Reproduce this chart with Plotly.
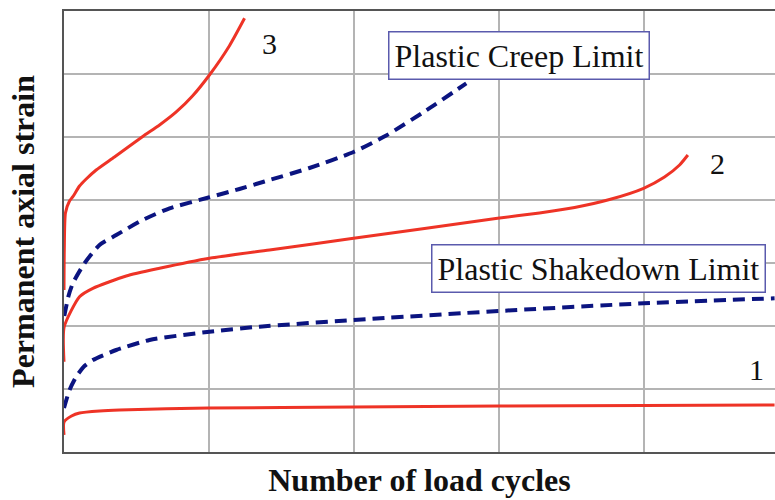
import plotly.graph_objects as go

# ---- data (grid units: x = load-cycle divisions, y = strain divisions) ----
c1_x = [0, 0, 0.052, 0.107, 0.245, 0.383, 0.997, 1.997, 3.003, 3.997, 4.9]
c1_y = [0.27, 0.476, 0.571, 0.619, 0.651, 0.667, 0.698, 0.714, 0.730, 0.738, 0.746]

shake_x = [0, 0.038, 0.084, 0.141, 0.199, 0.36, 0.59, 1.003, 1.348, 1.997, 2.997, 3.997, 4.9]
shake_y = [0.698, 0.984, 1.195, 1.365, 1.46, 1.619, 1.778, 1.91, 1.989, 2.095, 2.238, 2.36, 2.44]

c2_x = [0, 0.001, 0.107, 0.199, 0.429, 0.659, 1.003, 1.417, 1.997, 2.99, 3.279, 3.521, 3.762, 3.997, 4.141, 4.245, 4.302]
c2_y = [1.433, 1.984, 2.465, 2.598, 2.794, 2.916, 3.075, 3.207, 3.392, 3.710, 3.794, 3.881, 4.008, 4.186, 4.365, 4.556, 4.714]

creep_x = [0.002, 0.031, 0.061, 0.141, 0.245, 0.360, 0.543, 0.728, 1.003, 1.21, 1.383, 1.693, 1.997, 2.222, 2.497, 2.774]
creep_y = [2.159, 2.476, 2.678, 2.995, 3.286, 3.444, 3.683, 3.868, 4.043, 4.175, 4.294, 4.508, 4.762, 5.024, 5.421, 5.852]

c3_x = [0, 0.002, 0.010, 0.038, 0.061, 0.107, 0.153, 0.222, 0.348, 0.543, 0.659, 0.774, 0.886, 1.003, 1.141, 1.245]
c3_y = [2.571, 3.206, 3.794, 3.984, 4.052, 4.222, 4.333, 4.476, 4.683, 5.008, 5.190, 5.397, 5.651, 5.984, 6.449, 6.884]

curve_labels = ["1", "2", "3"]
curve_label_x = [4.776, 4.507, 1.417]
curve_label_y = [1.302, 4.587, 6.492]

box_labels = ["Plastic Creep Limit", "Plastic Shakedown Limit"]
box_x = [3.138, 3.686]
box_y = [6.286, 2.905]

x_grid = [0, 1, 2, 3, 4]
y_grid = [0, 1, 2, 3, 4, 5, 6, 7]

RED = "#ee3326"
NAVY = "#0b1480"
SERIF = "Liberation Serif, Times New Roman, serif"

fig = go.Figure()

def red(x, y):
    fig.add_trace(go.Scatter(x=x, y=y, mode="lines",
                             line=dict(color=RED, width=3, shape="spline", smoothing=0.6),
                             showlegend=False, hoverinfo="skip"))

def dashed(x, y):
    fig.add_trace(go.Scatter(x=x, y=y, mode="lines",
                             line=dict(color=NAVY, width=4, dash="12px,7px", shape="spline", smoothing=0.6),
                             showlegend=False, hoverinfo="skip"))

red(c1_x, c1_y)
dashed(shake_x, shake_y)
red(c2_x, c2_y)
dashed(creep_x, creep_y)
red(c3_x, c3_y)

for t, x, y in zip(curve_labels, curve_label_x, curve_label_y):
    fig.add_annotation(x=x, y=y, text=t, showarrow=False,
                       font=dict(family=SERIF, size=30, color="#111"))

for t, x, y in zip(box_labels, box_x, box_y):
    fig.add_annotation(x=x, y=y, text=t, showarrow=False,
                       font=dict(family=SERIF, size=32, color="#111"),
                       bgcolor="white", bordercolor="#5a5aad", borderwidth=1.5, borderpad=5)

fig.update_layout(
    width=775, height=500,
    margin=dict(l=64, r=0, t=11, b=48),
    plot_bgcolor="white", paper_bgcolor="white",
    xaxis=dict(range=[0, 4.903], tickvals=x_grid, showticklabels=False, ticks="",
               showgrid=True, gridcolor="#b4b4b4", gridwidth=1.5, zeroline=False,
               showline=True, linecolor="#555", linewidth=2, mirror=True,
               title=dict(text="<b>Number of load cycles</b>", font=dict(family=SERIF, size=32, color="#111"),
                          standoff=16)),
    yaxis=dict(range=[0, 7], tickvals=y_grid, showticklabels=False, ticks="",
               showgrid=True, gridcolor="#b4b4b4", gridwidth=1.5, zeroline=False,
               showline=True, linecolor="#555", linewidth=2,
               title=dict(text="<b>Permanent axial strain</b>", font=dict(family=SERIF, size=32, color="#111"),
                          standoff=18)),
)

fig.write_html("out.html", config={"displayModeBar": False},
               post_script="document.body.style.margin='0';")
